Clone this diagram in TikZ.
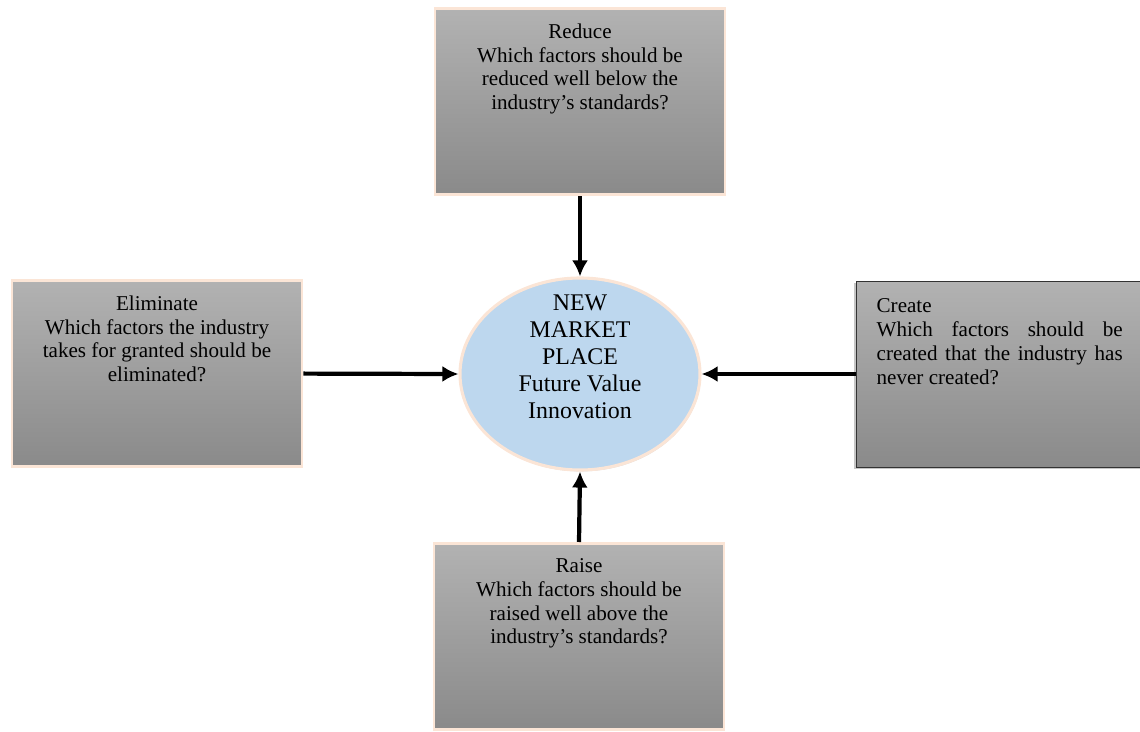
\documentclass[tikz,border=0pt]{standalone}
\usepackage{fontspec}
\setmainfont{Liberation Serif}
\usepackage{xcolor}
\usepackage{tikz}
\usetikzlibrary{positioning,shapes.geometric,arrows.meta,shadows}

\definecolor{peach}{RGB}{251,229,214}
\definecolor{boxtop}{RGB}{178,178,178}
\definecolor{boxbot}{RGB}{138,138,138}
\definecolor{marketblue}{RGB}{189,215,238}

\begin{document}
\begin{tikzpicture}[
    >=Latex,
    factorbox/.style={
        draw=peach,
        line width=2pt,
        top color=boxtop,
        bottom color=boxbot,
        minimum width=7.25cm,
        minimum height=4.65cm,
        drop shadow={shadow xshift=0.6pt, shadow yshift=-1.2pt, opacity=0.35}
    },
    createbox/.style={
        draw=black!80,
        line width=0.6pt,
        top color=boxtop,
        bottom color=boxbot,
        minimum width=7.25cm,
        minimum height=4.65cm,
        drop shadow={shadow xshift=-1.2pt, shadow yshift=-1.2pt, opacity=0.45}
    },
    boxtext/.style={
        inner sep=0pt,
        anchor=north,
        align=center,
        font=\fontsize{15}{17}\selectfont
    },
    market/.style={
        ellipse,
        draw=peach,
        line width=2.2pt,
        fill=marketblue,
        minimum width=6.0cm,
        minimum height=4.8cm,
        drop shadow={shadow xshift=0.5pt, shadow yshift=-1pt, opacity=0.3}
    },
    blackaux/.style={
        black,
        line width=3pt,
        -{Latex[length=4mm, width=4mm]}
    }
]

% page frame
\clip (0,0) rectangle (28.5,-18.275);

% four action boxes
\node[factorbox] (reduce) at (14.5,-2.54) {};
\node[factorbox] (elim) at (3.925,-9.34) {};
\node[createbox] (create) at (25.025,-9.35) {};
\node[factorbox] (raise) at (14.475,-15.91) {};

% centre ellipse
\node[market] (mkt) at (14.5,-9.35) {};

% box texts
\node[boxtext, yshift=-0.4cm] (reducetxt) at (reduce.north)
{Reduce\\Which factors should be\\reduced well below the\\industry’s standards?};

\node[boxtext, yshift=-0.4cm] (elimtxt) at (elim.north)
{Eliminate\\Which factors the industry\\takes for granted should be\\eliminated?};

\node[boxtext, anchor=north west, align=justify, text width=6.15cm,
      xshift=0.52cm, yshift=-0.45cm] (createtxt) at (create.north west)
{Create\\Which factors should be\linebreak created that the industry has\linebreak never created?};

\node[boxtext, yshift=-0.4cm] (raisetxt) at (raise.north)
{Raise\\Which factors should be\\raised well above the\\industry’s standards?};

\node[boxtext, font=\fontsize{17}{19.2}\selectfont, yshift=-0.45cm] (mkttxt) at (mkt.north)
{NEW\\MARKET\\PLACE\\Future Value\\Innovation};

% arrows into the ellipse
\draw[blackaux] (reduce.south) -- (mkt.north);
\draw[blackaux] (elim.east) -- (mkt.west);
\draw[blackaux] (create.west) -- (mkt.east);
\draw[blackaux] (raise.north) -- (mkt.south);

\end{tikzpicture}
\end{document}
